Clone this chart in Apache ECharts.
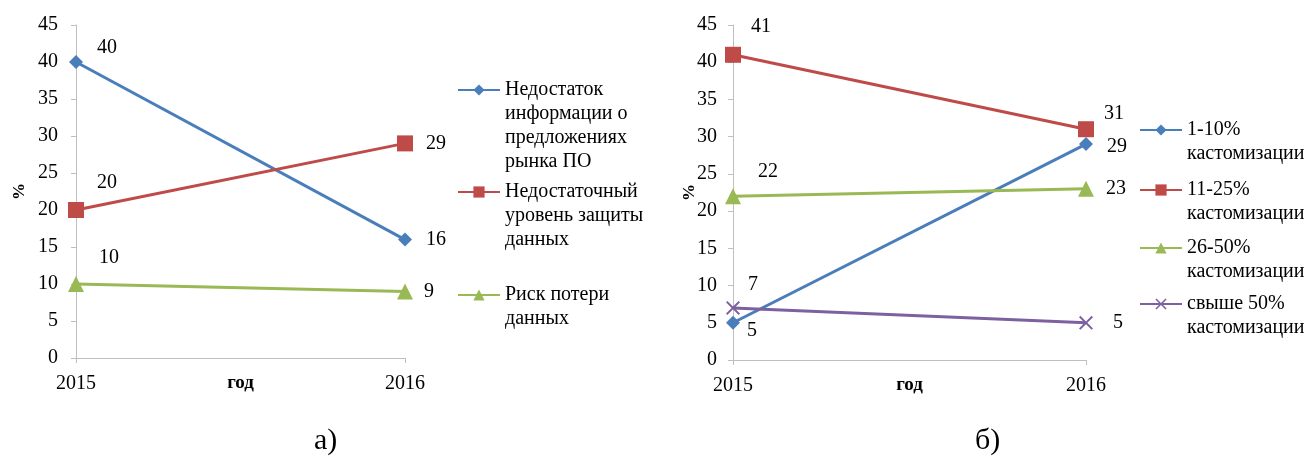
<!DOCTYPE html>
<html>
<head>
<meta charset="utf-8">
<script src="https://cdn.jsdelivr.net/npm/echarts@6/dist/echarts.min.js"></script>
<style>
  html, body { margin: 0; padding: 0; background: #fff; }
  #chart { width: 1309px; height: 465px; }
</style>
</head>
<body>
<div id="chart"></div>
<script>
// data
const years = ['2015', '2016']
const yMin = 0
const yMax = 45
const yStep = 5

const leftNames = [
  'Недостаток\nинформации о\nпредложениях\nрынка ПО',
  'Недостаточный\nуровень защиты\nданных',
  'Риск потери\nданных'
]
const lackOfInfo = [40, 16]
const lowProtection = [20, 29]
const dataLossRisk = [10, 9]

const rightNames = [
  '1-10%\nкастомизации',
  '11-25%\nкастомизации',
  '26-50%\nкастомизации',
  'свыше 50%\nкастомизации'
]
const custom1to10 = [5, 29]
const custom11to25 = [41, 31]
const custom26to50 = [22, 23]
const customOver50 = [7, 5]

const FONT = 'Liberation Serif'
const BLUE = '#4a7ebb'
const RED = '#be4b48'
const GREEN = '#98b954'
const PURPLE = '#7d60a0'
const CROSS = 'path://M0,1L1,0L5,4L9,0L10,1L6,5L10,9L9,10L5,6L1,10L0,9L4,5Z'

function makeSeries (name, values, idx, color, symbol, size, offsets) {
  return {
    name: name,
    type: 'line',
    xAxisIndex: idx,
    yAxisIndex: idx,
    symbol: symbol,
    symbolSize: size,
    itemStyle: { color: color },
    lineStyle: { color: color, width: 3 },
    label: {
      show: true,
      position: 'right',
      distance: 0,
      color: '#000',
      fontFamily: FONT,
      fontSize: 20
    },
    data: values.map((v, i) => ({ value: v, label: { offset: offsets[i] } })),
    animation: false
  }
}

// legend text is centred on the icon, so pad it with empty lines on top
// to keep the icon next to the first line, as in the original
function makeLegend (name, left, lineY) {
  let n = name.split('\n').length
  return {
    data: [name],
    orient: 'vertical',
    left: left,
    top: lineY - (2 * n - 1) * 12,
    padding: 0,
    itemGap: 0,
    itemWidth: 42,
    itemHeight: 14,
    formatter: function (nm) {
      return '\n'.repeat(n - 1) + nm
    },
    textStyle: {
      color: '#000',
      fontFamily: FONT,
      fontSize: 20,
      lineHeight: 24
    }
  }
}

function makeXAxis (idx) {
  return {
    type: 'category',
    gridIndex: idx,
    data: years,
    boundaryGap: false,
    name: 'год',
    nameLocation: 'middle',
    nameGap: 16,
    nameMoveOverlap: false,
    nameTextStyle: { fontFamily: FONT, fontSize: 19, fontWeight: 'bold', color: '#000' },
    axisLine: { lineStyle: { color: '#bfbfbf' } },
    axisTick: { show: true, length: 5, lineStyle: { color: '#bfbfbf' } },
    axisLabel: { fontFamily: FONT, fontSize: 20, color: '#000', margin: 16 }
  }
}

function makeYAxis (idx, gap, margin) {
  return {
    type: 'value',
    gridIndex: idx,
    min: yMin,
    max: yMax,
    interval: yStep,
    name: '%',
    nameLocation: 'middle',
    nameGap: gap,
    nameMoveOverlap: false,
    nameTextStyle: { fontFamily: FONT, fontSize: 17, fontWeight: 'bold', color: '#000' },
    splitLine: { show: false },
    axisLine: { show: true, lineStyle: { color: '#bfbfbf' } },
    axisTick: { show: true, length: 5, lineStyle: { color: '#bfbfbf' } },
    axisLabel: { fontFamily: FONT, fontSize: 20, color: '#000', margin: margin }
  }
}

let myChart = echarts.init(document.getElementById('chart'))
myChart.setOption({
  backgroundColor: '#fff',
  animation: false,
  title: [
    { text: 'а)', left: 309, top: 421, textStyle: { fontFamily: FONT, fontSize: 30, fontWeight: 'normal', color: '#000' } },
    { text: 'б)', left: 970, top: 421, textStyle: { fontFamily: FONT, fontSize: 30, fontWeight: 'normal', color: '#000' } }
  ],
  grid: [
    { left: 76, top: 25, width: 329, height: 333 },
    { left: 733, top: 25, width: 353, height: 335 }
  ],
  xAxis: [makeXAxis(0), makeXAxis(1)],
  yAxis: [makeYAxis(0, 48, 18), makeYAxis(1, 35, 16)],
  legend: [
    makeLegend(leftNames[0], 457, 90),
    makeLegend(leftNames[1], 457, 192),
    makeLegend(leftNames[2], 457, 295),
    makeLegend(rightNames[0], 1139, 130),
    makeLegend(rightNames[1], 1139, 190),
    makeLegend(rightNames[2], 1139, 248),
    makeLegend(rightNames[3], 1139, 304)
  ],
  series: [
    makeSeries(leftNames[0], lackOfInfo, 0, BLUE, 'diamond', 14, [[14, -14], [14, 0]]),
    makeSeries(leftNames[1], lowProtection, 0, RED, 'rect', 16, [[13, -27], [13, 0]]),
    makeSeries(leftNames[2], dataLossRisk, 0, GREEN, 'triangle', 16, [[15, -26], [11, 0]]),
    makeSeries(rightNames[0], custom1to10, 1, BLUE, 'diamond', 14, [[7, 8], [14, 3]]),
    makeSeries(rightNames[1], custom11to25, 1, RED, 'rect', 16, [[10, -28], [10, -15]]),
    makeSeries(rightNames[2], custom26to50, 1, GREEN, 'triangle', 16, [[17, -24], [12, 0]]),
    makeSeries(rightNames[3], customOver50, 1, PURPLE, CROSS, 14, [[8, -23], [20, 0]])
  ]
})
</script>
</body>
</html>
